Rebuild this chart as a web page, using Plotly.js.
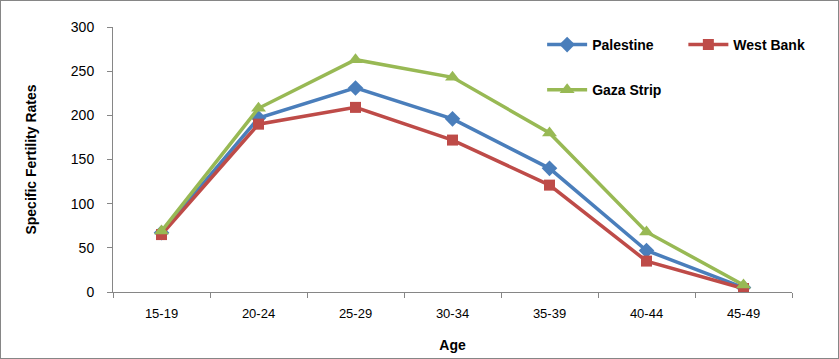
<!DOCTYPE html>
<html><head><meta charset="utf-8">
<script src="https://cdn.plot.ly/plotly-3.0.1.min.js"></script>
<style>
html,body{margin:0;padding:0;background:#fff;}
#wrap{position:absolute;left:0;top:0;width:837px;height:357px;border:1px solid #868686;}
#chart{position:absolute;left:-1px;top:-1px;width:839px;height:359px;}
</style></head><body>
<div id="wrap"><div id="chart"></div></div>
<script>
const ageGroups = ['15-19','20-24','25-29','30-34','35-39','40-44','45-49'];
const palestine = [67, 197, 231, 196, 140, 47, 5];
const westBank  = [65, 190, 209, 172, 121, 35, 4];
const gazaStrip = [69, 208, 263, 243, 180, 68, 8];
const yTicks = [0, 50, 100, 150, 200, 250, 300];

const lw = 3.5;
const traces = [
  {x: ageGroups, y: palestine, name: 'Palestine', type: 'scatter', mode: 'lines+markers',
   line: {color: '#4a7ebb', width: lw}, marker: {symbol: 'diamond', size: 12, color: '#4a7ebb'}, legend: 'legend'},
  {x: ageGroups, y: westBank, name: 'West Bank', type: 'scatter', mode: 'lines+markers',
   line: {color: '#be4b48', width: lw}, marker: {symbol: 'square', size: 11, color: '#be4b48'}, legend: 'legend2'},
  {x: ageGroups, y: gazaStrip, name: 'Gaza Strip', type: 'scatter', mode: 'lines+markers',
   line: {color: '#98b954', width: lw}, marker: {symbol: 'triangle-up', size: 13, color: '#98b954'}, legend: 'legend3'}
];
const legFont = {family: 'Liberation Sans, Arial, sans-serif', size: 14, color: '#000', weight: 'bold'};
const legBase = {bgcolor: 'rgba(0,0,0,0)', font: legFont, xanchor: 'left', yanchor: 'middle', itemwidth: 40, tracegroupgap: 0};
const layout = {
  width: 839, height: 359,
  margin: {l: 113, r: 47, t: 27, b: 67},
  paper_bgcolor: 'rgba(0,0,0,0)', plot_bgcolor: '#fff',
  font: {family: 'Liberation Sans, Arial, sans-serif', size: 13, color: '#000'},
  xaxis: {
    type: 'category', tickson: 'boundaries', ticks: 'outside', ticklen: 5, tickcolor: '#868686',
    showline: true, linecolor: '#868686', linewidth: 1, showgrid: false, zeroline: false,
    tickfont: {size: 13}, range: [-0.5, 6.5], ticklabelstandoff: 9,
    title: {text: 'Age', font: {size: 14, weight: 'bold'}, standoff: 20}
  },
  yaxis: {
    range: [0, 300], tickvals: yTicks, ticks: 'outside', ticklen: 5, tickcolor: '#868686',
    showline: true, linecolor: '#868686', linewidth: 1, showgrid: false, zeroline: false,
    tickfont: {size: 14}, ticklabelstandoff: 10,
    title: {text: 'Specific Fertility Rates', font: {size: 14, weight: 'bold'}, standoff: 30}
  },
  showlegend: true,
  legend: Object.assign({}, legBase, {x: 0.632, y: 0.932}),
  legend2: Object.assign({}, legBase, {x: 0.84, y: 0.932}),
  legend3: Object.assign({}, legBase, {x: 0.632, y: 0.762})
};
Plotly.newPlot('chart', traces, layout, {displayModeBar: false, staticPlot: true});
</script>
</body></html>
